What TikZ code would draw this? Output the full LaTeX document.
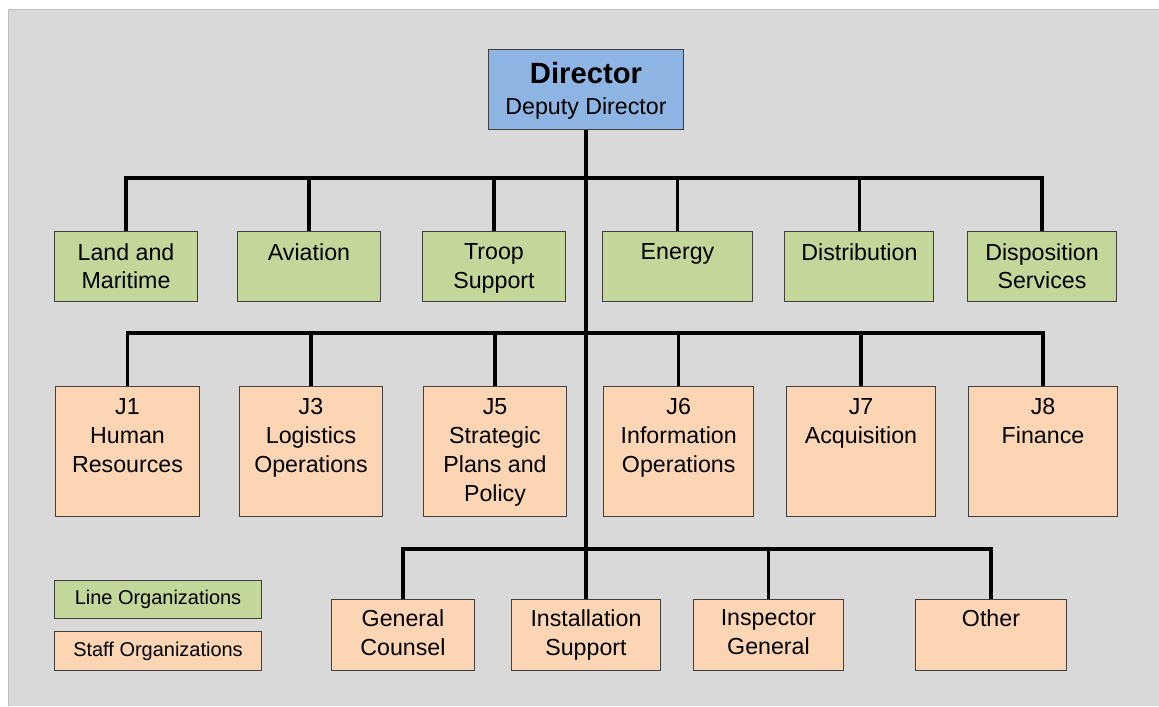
\documentclass[tikz,border=0pt]{standalone}
\usepackage{fontspec}
\setmainfont{Liberation Sans}
\usepackage{tikz}
\usetikzlibrary{positioning}
\usepackage{xcolor}
\definecolor{orgblue}{RGB}{141,180,226}
\definecolor{orggreen}{RGB}{196,215,155}
\definecolor{orgpeach}{RGB}{252,213,180}
\definecolor{orggray}{RGB}{217,217,217}
\definecolor{orgframe}{RGB}{192,192,192}
\definecolor{orgedge}{RGB}{64,64,64}
\tikzstyle{bus} = [line width=2.2pt, color=black]
\tikzstyle{orgbox} = [rectangle, draw=orgedge, line width=0.7pt, inner sep=0pt]
\tikzstyle{linebox} = [orgbox, fill=orggreen, minimum height=1.75cm]
\tikzstyle{staffbox} = [orgbox, fill=orgpeach, minimum height=3.25cm]
\tikzstyle{lowbox} = [orgbox, fill=orgpeach, minimum height=1.775cm]
\tikzstyle{orgtext} = [font=\fontsize{16.5}{20.6}\selectfont, align=center, inner sep=0pt]
\tikzstyle{legendbox} = [orgbox, minimum width=5.175cm, font=\fontsize{14.2}{17}\selectfont]

\begin{document}
\begin{tikzpicture}[x=0.025cm, y=-0.025cm]
    % background
    \useasboundingbox (0,0) rectangle (1159,706);
    \fill[orggray] (8,9) rectangle (1159,706);
    \draw[orgframe, line width=0.7pt] (8,706) -- (8,9) -- (1159,9);

    % Director
    \node[orgbox, fill=orgblue, minimum width=4.85cm, minimum height=2cm] (director) at (586,89) {};
    \node[font=\fontsize{20.8}{25}\selectfont\bfseries, inner sep=0pt, below=0.35cm of director.north] (dirname) {Director};
    \node[orgtext, below=0.325cm of dirname] (deputy) {Deputy Director};

    % Line organizations
    \node[linebox, minimum width=3.55cm] (land) at (126,266) {};
    \node[orgtext, below=0.31cm of land.north] (landtxt) {Land and\\Maritime};
    \node[linebox, minimum width=3.575cm] (aviation) at (309,266) {};
    \node[orgtext, below=0.31cm of aviation.north] (aviationtxt) {Aviation};
    \node[linebox, minimum width=3.575cm] (troop) at (494,266) {};
    \node[orgtext, below=0.31cm of troop.north] (trooptxt) {Troop\\Support};
    \node[linebox, minimum width=3.74cm] (energy) at (677.5,266) {};
    \node[orgtext, below=0.31cm of energy.north] (energytxt) {Energy};
    \node[linebox, minimum width=3.725cm] (distrib) at (859.4,266) {};
    \node[orgtext, below=0.31cm of distrib.north] (distribtxt) {Distribution};
    \node[linebox, minimum width=3.7cm] (dispos) at (1042,266) {};
    \node[orgtext, below=0.31cm of dispos.north] (dispostxt) {Disposition\\Services};

    % Staff organizations
    \node[staffbox, minimum width=3.575cm] (jone) at (127.5,451) {};
    \node[orgtext, below=0.31cm of jone.north] (jonetxt) {J1\\Human\\Resources};
    \node[staffbox, minimum width=3.575cm] (jthree) at (311,451) {};
    \node[orgtext, below=0.31cm of jthree.north] (jthreetxt) {J3\\Logistics\\Operations};
    \node[staffbox, minimum width=3.575cm] (jfive) at (495,451) {};
    \node[orgtext, below=0.31cm of jfive.north] (jfivetxt) {J5\\Strategic\\Plans and\\Policy};
    \node[staffbox, minimum width=3.75cm] (jsix) at (678.7,451) {};
    \node[orgtext, below=0.31cm of jsix.north] (jsixtxt) {J6\\Information\\Operations};
    \node[staffbox, minimum width=3.7cm] (jseven) at (861,451) {};
    \node[orgtext, below=0.31cm of jseven.north] (jseventxt) {J7\\Acquisition};
    \node[staffbox, minimum width=3.7cm] (jeight) at (1043,451) {};
    \node[orgtext, below=0.31cm of jeight.north] (jeighttxt) {J8\\Finance};

    % Lower staff row
    \node[lowbox, minimum width=3.55cm] (counsel) at (403,635.3) {};
    \node[orgtext, below=0.26cm of counsel.north] (counseltxt) {General\\Counsel};
    \node[lowbox, minimum width=3.7cm] (install) at (586,635.3) {};
    \node[orgtext, below=0.26cm of install.north] (installtxt) {Installation\\Support};
    \node[lowbox, minimum width=3.725cm] (inspector) at (768.5,635.3) {};
    \node[orgtext, below=0.26cm of inspector.north] (inspectortxt) {Inspector\\General};
    \node[lowbox, minimum width=3.75cm] (other) at (991,635.3) {};
    \node[orgtext, below=0.26cm of other.north] (othertxt) {Other};

    % Legend
    \node[legendbox, fill=orggreen, minimum height=0.95cm] (lineleg) at (158,599) {Line Organizations};
    \node[legendbox, fill=orgpeach, minimum height=0.975cm] (staffleg) at (158,651) {Staff Organizations};

    % Connectors
    \coordinate (linebus) at (586,178);
    \coordinate (staffbus) at (586,333);
    \coordinate (lowbus) at (586,549);
    \draw[bus] (director.south) -- (install.north);
    \draw[bus] (land.north) |- (linebus) -| (dispos.north);
    \draw[bus] (aviation.north) -- (aviation.north |- linebus);
    \draw[bus] (troop.north) -- (troop.north |- linebus);
    \draw[bus] (energy.north) -- (energy.north |- linebus);
    \draw[bus] (distrib.north) -- (distrib.north |- linebus);
    \draw[bus] (jone.north) |- (staffbus) -| (jeight.north);
    \draw[bus] (jthree.north) -- (jthree.north |- staffbus);
    \draw[bus] (jfive.north) -- (jfive.north |- staffbus);
    \draw[bus] (jsix.north) -- (jsix.north |- staffbus);
    \draw[bus] (jseven.north) -- (jseven.north |- staffbus);
    \draw[bus] (counsel.north) |- (lowbus) -| (other.north);
    \draw[bus] (inspector.north) -- (inspector.north |- lowbus);
\end{tikzpicture}
\end{document}
